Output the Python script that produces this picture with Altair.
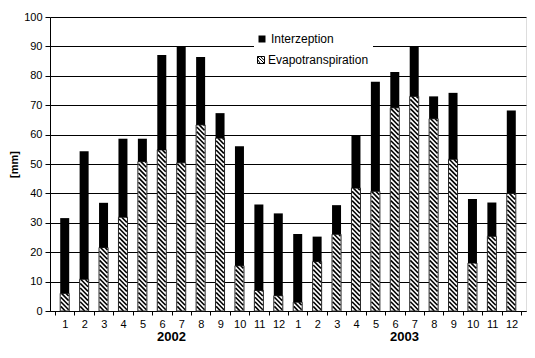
import altair as alt
import pandas as pd

# ---- data ----
months = [1, 2, 3, 4, 5, 6, 7, 8, 9, 10, 11, 12] * 2
years = ["2002", "2003"]
evapotranspiration = [6.0, 10.8, 21.6, 31.9, 50.8, 54.8, 50.4, 63.3, 58.8, 15.4, 7.0, 5.2,
                      3.0, 16.8, 26.1, 41.8, 40.7, 69.1, 73.0, 65.4, 51.6, 16.3, 25.4, 40.0]
interzeption = [25.6, 43.5, 15.2, 26.7, 7.8, 32.3, 39.7, 23.1, 8.5, 40.6, 29.2, 28.0,
                23.2, 8.5, 9.9, 17.9, 37.3, 12.2, 17.1, 7.6, 22.6, 21.8, 11.5, 28.2]
series = ["Interzeption", "Evapotranspiration"]
y_ticks = list(range(0, 101, 10))

# ---- layout constants ----
PW, PH = 476, 294
BAR = 9
N = len(months)
FONT = "Liberation Sans"

pos = [i + 0.5 for i in range(N)]
df = pd.DataFrame({
    "pos": pos,
    "month": months,
    "evap": evapotranspiration,
    "interz": interzeption,
})
df["total"] = df["evap"] + df["interz"]

# hatch lines ("\" direction) derived from the evapotranspiration values
ux = PW / N          # px per x unit
uy = PH / 100.0      # px per y unit
half = (BAR / 2 - 0.5) / ux
dv = (BAR - 1) / uy  # 45 degree drop across the bar
step = 4.6 / uy
rows = []
for p, e in zip(pos, evapotranspiration):
    v = 0.0
    while v < e + dv:
        t0 = max(0.0, (v - e) / dv)
        t1 = min(1.0, v / dv)
        if t1 > t0:
            rows.append({
                "x": p - half + t0 * 2 * half, "y": v - t0 * dv,
                "x2": p - half + t1 * 2 * half, "y2": v - t1 * dv,
            })
        v += step
hatch = pd.DataFrame(rows)

xscale = alt.Scale(domain=[0, N], nice=False, zero=False)
yscale = alt.Scale(domain=[0, 100], nice=False)

x_axis = alt.Axis(
    values=list(range(N + 1)),
    labelExpr=f"datum.value >= {N} ? '' : '' + (datum.value % 12 + 1)",
    labelOffset=ux / 2, labelOverlap=False,
    grid=False, title=None, tickSize=4, labelPadding=3,
    domainColor="black", tickColor="black", labelColor="black",
    labelFont=FONT, labelFontSize=11,
)
y_axis = alt.Axis(
    values=y_ticks, grid=True, gridColor="black", gridWidth=1, labelOverlap=False,
    tickSize=5, labelPadding=3, domainColor="black", tickColor="black",
    labelColor="black", labelFont=FONT, labelFontSize=11,
    title="[mm]", titleFont=FONT, titleFontSize=11, titleFontWeight="bold",
    titleColor="black", titleX=-36, titleY=PH / 2, titleAngle=-90,
    titleAlign="center", titleBaseline="middle",
)

base = alt.Chart(df)

evap_bg = base.mark_bar(size=BAR, color="white").encode(
    x=alt.X("pos:Q", scale=xscale, axis=x_axis),
    y=alt.Y("evap:Q", scale=yscale, axis=y_axis),
)

hatch_layer = alt.Chart(hatch).mark_rule(color="black", strokeWidth=1.6).encode(
    x=alt.X("x:Q", scale=xscale, axis=x_axis),
    x2="x2:Q",
    y=alt.Y("y:Q", scale=yscale, axis=y_axis),
    y2="y2:Q",
)

evap_outline = base.mark_bar(size=BAR, fillOpacity=0, stroke="#222222", strokeWidth=1).encode(
    x=alt.X("pos:Q", scale=xscale, axis=x_axis),
    y=alt.Y("evap:Q", scale=yscale, axis=y_axis),
)

interz_bars = base.mark_bar(size=BAR, color="black").encode(
    x=alt.X("pos:Q", scale=xscale, axis=x_axis),
    y=alt.Y("evap:Q", scale=yscale, axis=y_axis),
    y2="total:Q",
)

# ---- legend drawn by hand (white box over the grid) ----
legend_df = pd.DataFrame({"series": series})
LX, LY0, LY1 = 212, 22, 43
legend_box = alt.Chart(legend_df.head(1)).mark_rect(color="white").encode(
    x=alt.value(204), x2=alt.value(323), y=alt.value(11), y2=alt.value(54),
)
sym_interz = alt.Chart(legend_df).transform_filter(
    alt.datum.series == series[0]
).mark_square(size=49, color="black", opacity=1).encode(
    x=alt.value(LX), y=alt.value(LY0),
)
hatch_symbol = "M-1,-1H1V1H-1Z M-1,-0.2L-0.2,1 M-1,-1L1,1 M-0.2,-1L1,0.2"
sym_evap = alt.Chart(legend_df).transform_filter(
    alt.datum.series == series[1]
).mark_point(shape=hatch_symbol, size=49, filled=True, fill="white",
             stroke="black", strokeWidth=1, opacity=1).encode(
    x=alt.value(LX - 1), y=alt.value(LY1),
)
txt_interz = alt.Chart(legend_df).transform_filter(
    alt.datum.series == series[0]
).mark_text(font=FONT, fontSize=12, color="black", align="left", baseline="middle").encode(
    x=alt.value(LX + 9), y=alt.value(LY0), text="series:N",
)
txt_evap = alt.Chart(legend_df).transform_filter(
    alt.datum.series == series[1]
).mark_text(font=FONT, fontSize=12, color="black", align="left", baseline="middle").encode(
    x=alt.value(LX + 6), y=alt.value(LY1), text="series:N",
)

year_df = pd.DataFrame({"year": years, "pos": [6, 18]})
year_layer = alt.Chart(year_df).mark_text(
    font=FONT, fontSize=13, fontWeight="bold", color="black", baseline="middle"
).encode(
    x=alt.X("pos:Q", scale=xscale, axis=x_axis),
    y=alt.value(PH + 26),
    text="year:N",
)

chart = alt.layer(
    evap_bg, hatch_layer, evap_outline, interz_bars,
    legend_box, sym_interz, sym_evap, txt_interz, txt_evap, year_layer
).properties(
    width=PW, height=PH,
    autosize=alt.AutoSizeParams(type="none"),
    padding={"left": 42, "top": 9, "right": 1, "bottom": 34},
).configure_view(
    stroke="black", strokeWidth=1
).configure(background="white")

chart.save("out.html", embed_options={"renderer": "svg", "actions": False})
